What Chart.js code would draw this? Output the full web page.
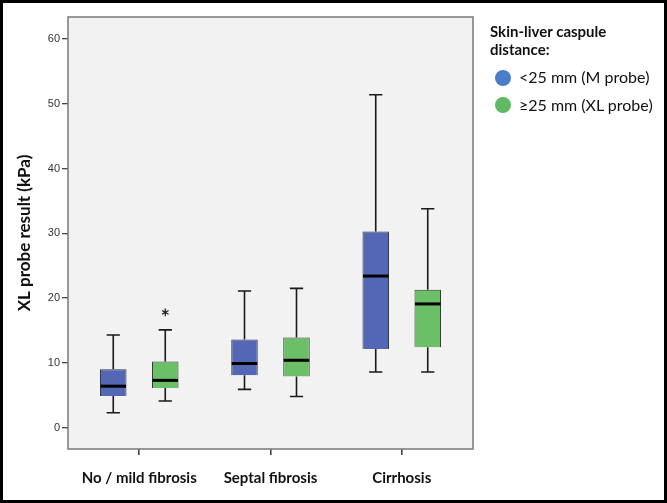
<!DOCTYPE html>
<html><head><meta charset="utf-8">
<script src="https://cdn.jsdelivr.net/npm/chart.js@4/dist/chart.umd.min.js"></script>
<style>
html,body{margin:0;padding:0;background:#fff;}
#wrap{position:relative;width:667px;height:503px;overflow:hidden;background:#fff;}
#c{position:absolute;left:0;top:0;}
#frame{position:absolute;left:0;top:0;width:667px;height:503px;border:3px solid #000;box-sizing:border-box;pointer-events:none;}
.lg{position:absolute;font-family:Lato,"Open Sans",sans-serif;color:#111;white-space:nowrap;}
.lt{left:490px;top:23.3px;font-weight:bold;font-size:15px;line-height:17.3px;}
.dot{position:absolute;width:16px;height:16px;border-radius:50%;}
.li{font-size:16px;line-height:16px;left:519px;}
</style>
</head><body>
<div id="wrap">
<canvas id="c" width="667" height="503"></canvas>
<div class="lg lt">Skin-liver caspule<br>distance:</div>
<div class="dot" id="d0" style="left:495px;top:70px;"></div>
<div class="lg li" id="l0" style="top:69px;"></div>
<div class="dot" id="d1" style="left:495px;top:97px;"></div>
<div class="lg li" id="l1" style="top:97px;"></div>
<div id="frame"></div>
</div>
<script>
// ---- data ----
const categories = ['No / mild fibrosis', 'Septal fibrosis', 'Cirrhosis'];
const seriesNames = ['<25 mm (M probe)', '\u226525 mm (XL probe)'];
const yTicks = [0, 10, 20, 30, 40, 50, 60];

const mWhiskerLow  = [2.3, 5.9, 8.6];
const mQ1          = [4.9, 8.1, 12.15];
const mMedian      = [6.4, 9.9, 23.4];
const mQ3          = [9.0, 13.6, 30.3];
const mWhiskerHigh = [14.3, 21.1, 51.4];

const xlWhiskerLow  = [4.1, 4.8, 8.6];
const xlQ1          = [6.1, 7.9, 12.4];
const xlMedian      = [7.3, 10.4, 19.1];
const xlQ3          = [10.2, 13.9, 21.3];
const xlWhiskerHigh = [15.1, 21.5, 33.8];

const outlierSeries   = [1];
const outlierCategory = [0];
const outlierValue    = [17.8];

// ---- styles ----
const boxColors = ['#5467B4', '#6BC067'];
const legendColors = ['#4A7DC8', '#5EBB64'];

document.getElementById('d0').style.background = legendColors[0];
document.getElementById('d1').style.background = legendColors[1];
document.getElementById('l0').textContent = seriesNames[0];
document.getElementById('l1').textContent = seriesNames[1];

function mkData(q1, q3) { return categories.map((c, i) => ({ x: i, y: [q1[i], q3[i]] })); }

const boxPlugin = {
  id: 'boxParts',
  beforeDraw(chart) {
    const { ctx, chartArea: a } = chart;
    ctx.save();
    ctx.fillStyle = '#F2F2F2';
    ctx.fillRect(a.left, a.top, a.right - a.left, a.bottom - a.top);
    ctx.restore();
  },
  beforeDatasetsDraw(chart) {
    const { ctx } = chart;
    const ys = chart.scales.y;
    ctx.save();
    ctx.strokeStyle = '#1a1a1a';
    ctx.lineWidth = 1.6;
    chart.data.datasets.forEach((ds, di) => {
      const meta = chart.getDatasetMeta(di);
      meta.data.forEach((bar, i) => {
        const x = bar.x, w = bar.width, cap = w / 2;
        const pLow = ys.getPixelForValue(ds.whiskerLow[i]);
        const pHigh = ys.getPixelForValue(ds.whiskerHigh[i]);
        const pQ1 = ys.getPixelForValue(ds.q1[i]);
        const pQ3 = ys.getPixelForValue(ds.q3[i]);
        ctx.beginPath();
        ctx.moveTo(x, pHigh); ctx.lineTo(x, pQ3);
        ctx.moveTo(x, pQ1); ctx.lineTo(x, pLow);
        ctx.moveTo(x - cap / 2, pHigh); ctx.lineTo(x + cap / 2, pHigh);
        ctx.moveTo(x - cap / 2, pLow); ctx.lineTo(x + cap / 2, pLow);
        ctx.stroke();
      });
    });
    ctx.restore();
  },
  afterDatasetsDraw(chart) {
    const { ctx, chartArea: a } = chart;
    const ys = chart.scales.y;
    ctx.save();
    ctx.strokeStyle = '#000';
    ctx.lineWidth = 3;
    chart.data.datasets.forEach((ds, di) => {
      const meta = chart.getDatasetMeta(di);
      meta.data.forEach((bar, i) => {
        const p = ys.getPixelForValue(ds.median[i]);
        ctx.beginPath();
        ctx.moveTo(bar.x - bar.width / 2 + 0.5, p);
        ctx.lineTo(bar.x + bar.width / 2 - 0.5, p);
        ctx.stroke();
      });
    });
    // outliers (asterisk)
    ctx.lineWidth = 1.3;
    ctx.strokeStyle = '#222';
    outlierValue.forEach((v, k) => {
      const bar = chart.getDatasetMeta(outlierSeries[k]).data[outlierCategory[k]];
      const cx = bar.x, cy = ys.getPixelForValue(v), r = 3.8;
      ctx.beginPath();
      for (let j = 0; j < 3; j++) {
        const ang = Math.PI / 2 + j * Math.PI / 3;
        ctx.moveTo(cx + r * Math.cos(ang), cy + r * Math.sin(ang));
        ctx.lineTo(cx - r * Math.cos(ang), cy - r * Math.sin(ang));
      }
      ctx.stroke();
    });
    // frame
    ctx.strokeStyle = '#7f7f7f';
    ctx.lineWidth = 1.6;
    ctx.strokeRect(a.left, a.top, a.right - a.left, a.bottom - a.top);
    ctx.restore();
  }
};

new Chart(document.getElementById('c'), {
  type: 'bar',
  data: {
    datasets: [
      { label: seriesNames[0], data: mkData(mQ1, mQ3), backgroundColor: boxColors[0], borderColor: '#3a3a3a', borderWidth: 1,
        q1: mQ1, q3: mQ3, median: mMedian, whiskerLow: mWhiskerLow, whiskerHigh: mWhiskerHigh },
      { label: seriesNames[1], data: mkData(xlQ1, xlQ3), backgroundColor: boxColors[1], borderColor: '#3a3a3a', borderWidth: 1,
        q1: xlQ1, q3: xlQ3, median: xlMedian, whiskerLow: xlWhiskerLow, whiskerHigh: xlWhiskerHigh }
    ]
  },
  options: {
    responsive: false,
    animation: false,
    categoryPercentage: 0.7925,
    barPercentage: 0.51,
    layout: { padding: { top: 17, right: 194, left: 0, bottom: 0 } },
    plugins: { legend: { display: false }, tooltip: { enabled: false } },
    scales: {
      x: {
        type: 'linear', min: -0.543, max: 2.543, offset: false,
        afterBuildTicks(s) { s.ticks = categories.map((c, i) => ({ value: i })); },
        afterFit(s) { s.height = 54; },
        ticks: { callback: (v) => categories[v], font: { family: 'Lato', weight: 'bold', size: 15 }, color: '#111', padding: 14, maxRotation: 0, autoSkip: false },
        grid: { offset: false, drawOnChartArea: false, drawTicks: true, tickLength: 6, color: '#444', lineWidth: 1.6 },
        border: { display: false }
      },
      y: {
        min: -3.3, max: 63.4,
        afterBuildTicks(s) { s.ticks = yTicks.map(v => ({ value: v })); },
        afterFit(s) { s.width = 68; },
        ticks: { font: { family: 'Liberation Sans', size: 11 }, color: '#333', padding: 2 },
        grid: { drawOnChartArea: false, drawTicks: true, tickLength: 6, color: '#444', lineWidth: 1.3 },
        border: { display: false },
        title: { display: true, text: 'XL probe result (kPa)', font: { family: 'Lato', weight: 'bold', size: 17 }, color: '#111', padding: { top: 14.3, bottom: 0 } }
      }
    }
  },
  plugins: [boxPlugin]
});
</script>
</body></html>
